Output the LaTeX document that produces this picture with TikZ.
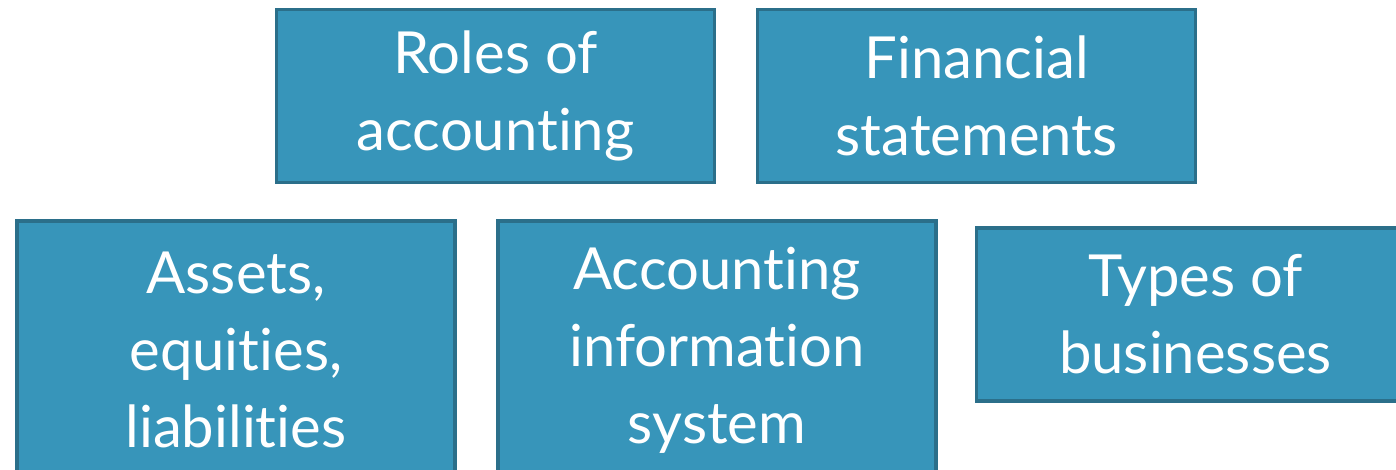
\documentclass[tikz,border=0pt]{standalone}
\usepackage{fontspec}
\setmainfont{Lato}[Ligatures={NoCommon}]
\usetikzlibrary{positioning}

\definecolor{topicfill}{HTML}{3795BA}
\definecolor{topicedge}{HTML}{2B6F8A}

\begin{document}
\begin{tikzpicture}[x=1pt,y=-1pt,node distance=481pt,on grid,
	topic/.style={draw=topicedge,fill=topicfill,line width=3.5pt,text=white,
		minimum width=438pt,minimum height=173pt,inner sep=0pt,align=center,
		font=\fontsize{58}{77}\selectfont}]
	\useasboundingbox (0,0) rectangle (1396,469);
	\clip (0,0) rectangle (1396,469);
	
	\node[topic]                     (ROLES) at (495.5,96)  {Roles of\\accounting};
	\node[topic]                     (FIN)   [right of=ROLES] {Financial\\statements};
	\node[topic,minimum height=258pt] (AEL)   at (236,350)   {Assets,\\equities,\\liabilities};
	\node[topic,minimum height=258pt] (AIS)   [right of=AEL]   {Accounting\\information\\system};
	\node[topic]                     (TYPES) at (1195.5,314.5) {Types of\\businesses};
\end{tikzpicture}
\end{document}
